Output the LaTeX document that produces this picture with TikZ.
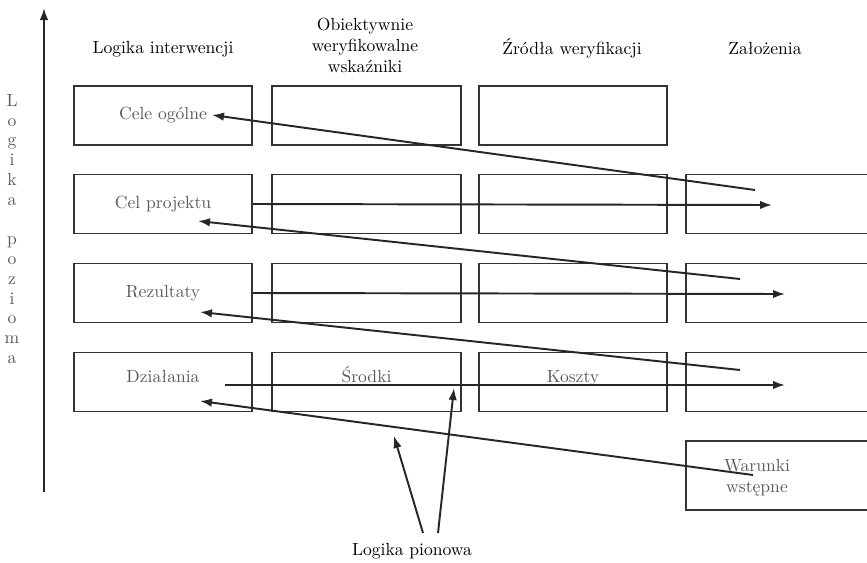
\documentclass[tikz,border=0pt]{standalone}
\usepackage{tikz}
\usetikzlibrary{arrows.meta,positioning,calc}

\begin{document}
\begin{tikzpicture}[x=0.2mm,y=-0.2mm,
  box/.style={draw=black!80,line width=0.8pt,minimum height=11.8mm,inner sep=0pt,text=black!65},
  up/.style={text height=7pt,text depth=7pt},
  wa/.style={minimum width=35.6mm},
  wb/.style={minimum width=37.8mm},
  wc/.style={minimum width=37.6mm},
  wd/.style={minimum width=42.8mm},
  arr/.style={-{Latex[length=2.4mm,width=1.7mm]},line width=1.1pt,black!85},
  head/.style={align=center,text=black}]
  \useasboundingbox (0,0) rectangle (867,562);
  \clip (0,0) rectangle (867,562);
  % vertical axis
  \coordinate (axbot) at (44,492);
  \coordinate (axtop) at (44,8);
  \draw[arr] (axbot) -- (axtop);
  \node[text=black!65,align=center,font=\fontsize{10}{11.25}\selectfont] (pozioma) at (12,229)
    {L\\o\\g\\i\\k\\a\\[11.25pt]p\\o\\z\\i\\o\\m\\a};
  % headers
  \node[head] (h1) at (163,49) {Logika interwencji};
  \node[head] (h2) at (365,45) {Obiektywnie\\weryfikowalne\\wskaźniki};
  \node[head] (h3) at (572,48) {Źródła weryfikacji};
  \node[head] (h4) at (765,48) {Założenia};
  % boxes
  \node[box,wa] (cele) at (163,115.5) {Cele ogólne};
  \node[box,wb] (b12) at (366.5,115.5) {};
  \node[box,wc] (b13) at (573,115.5) {};
  \node[box,wa] (celp) at (163,204) {Cel projektu};
  \node[box,wb] (b22) at (366.5,204) {};
  \node[box,wc] (b23) at (573,204) {};
  \node[box,wd] (b24) at (793,204) {};
  \node[box,wa] (rez) at (163,293) {Rezultaty};
  \node[box,wb] (b32) at (366.5,293) {};
  \node[box,wc] (b33) at (573,293) {};
  \node[box,wd] (b34) at (793,293) {};
  \node[box,wa,up] (dzial) at (163,382) {Działania};
  \node[box,wb,up] (srodki) at (366.5,382) {Środki};
  \node[box,wc,up] (koszty) at (573,382) {Koszty};
  \node[box,wd] (b44) at (793,382) {};
  \node[box,wd,minimum height=13.8mm] (b54) at (793,475.5) {};
  \node[text=black!65,align=center] (warunki) at (757,478) {Warunki\\wstępne};
  \node[head] (pion) at (412,551) {Logika pionowa};
  % horizontal logic
  \coordinate (z2) at (772,205);
  \coordinate (z3) at (785,294);
  \coordinate (d0) at (225,385);
  \coordinate (z4) at (785,385);
  \draw[arr] (celp.east) -- (z2);
  \draw[arr] (rez.east) -- (z3);
  \draw[arr] (d0) -- (z4);
  \coordinate (s1) at (755,190);
  \coordinate (e1) at (212,115);
  \coordinate (s2) at (740,279);
  \coordinate (e2) at (198,221);
  \coordinate (s3) at (740,370);
  \coordinate (e3) at (200,312);
  \coordinate (s4) at (753,475);
  \coordinate (e4) at (200,401);
  \draw[arr] (s1) -- (e1);
  \draw[arr] (s2) -- (e2);
  \draw[arr] (s3) -- (e3);
  \draw[arr] (s4) -- (e4);
  % vertical logic
  \coordinate (p1) at (423,533);
  \coordinate (p2) at (438,533);
  \coordinate (q1) at (394,436);
  \coordinate (q2) at (454,388);
  \draw[arr] (p1) -- (q1);
  \draw[arr] (p2) -- (q2);
\end{tikzpicture}
\end{document}
